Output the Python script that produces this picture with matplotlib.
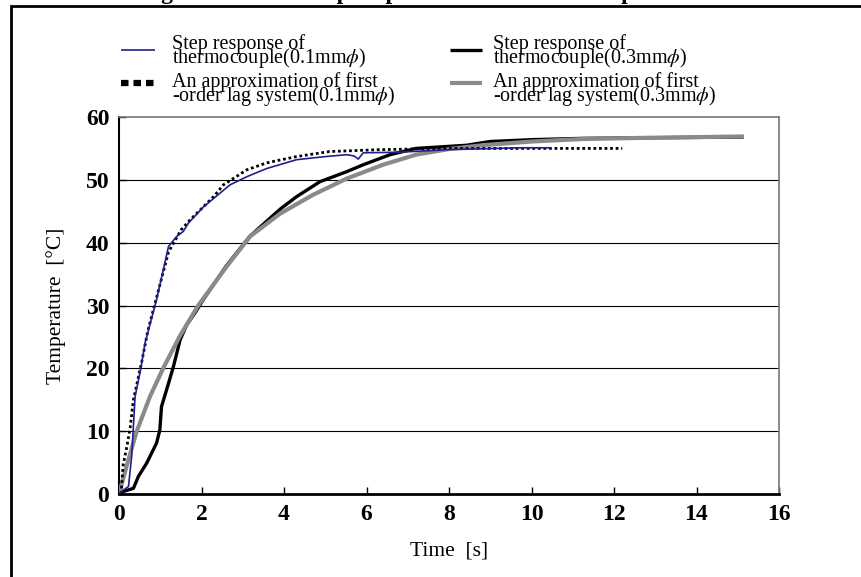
import matplotlib
matplotlib.use("Agg")
import matplotlib.pyplot as plt
from matplotlib.lines import Line2D
from matplotlib.patches import Rectangle

# ================= data =================
# step response of thermocouple 0.1mm
t_01 = [0.0, 0.06, 0.23, 0.31, 0.39, 0.53, 0.63, 0.91, 1.2, 1.4, 1.56, 1.68, 2.05,
        2.69, 3.1, 3.58, 4.3, 5.0, 5.52, 5.7, 5.8, 5.92, 6.8, 8.0, 9.7, 10.45]
T_01 = [0.0, 0.4, 1.2, 6.2, 15.5, 20.0, 24.0, 30.9, 39.4, 41.0, 41.8, 43.1, 45.7,
        49.2, 50.5, 51.8, 53.2, 53.7, 54.0, 53.8, 53.3, 54.3, 54.4, 54.8, 55.1, 55.1]

# first-order lag approximation 0.1mm
t_01a = [0.05, 0.1, 0.19, 0.27, 0.35, 0.43, 0.55, 0.7, 0.9, 1.2, 1.5, 1.72, 2.29,
         2.53, 3.1, 3.58, 4.3, 5.1, 6.3, 8.0, 10.0, 12.2]
T_01a = [0.0, 4.6, 7.5, 10.5, 15.0, 17.4, 21.0, 26.0, 31.0, 38.5, 42.0, 43.6, 47.3,
         49.2, 51.6, 52.7, 53.7, 54.5, 54.8, 55.0, 55.0, 55.0]

# step response of thermocouple 0.3mm
t_03 = [0.0, 0.1, 0.35, 0.47, 0.67, 0.91, 0.99, 1.03, 1.2, 1.32, 1.48, 1.64, 1.84,
        2.04, 2.6, 3.17, 3.9, 4.3, 4.87, 5.52, 5.92, 6.57, 7.2, 8.42, 9.0, 10.04,
        11.25, 12.87, 15.1]
T_03 = [0.0, 0.4, 0.9, 2.8, 4.9, 8.1, 10.2, 13.9, 17.6, 20.3, 24.5, 26.9, 28.8,
        30.9, 36.3, 41.0, 45.3, 47.3, 49.7, 51.3, 52.4, 54.0, 55.0, 55.5, 56.1, 56.4,
        56.6, 56.7, 56.8]

# first-order lag approximation 0.3mm
t_03a = [0.0, 0.2, 0.43, 0.75, 1.07, 1.48, 1.92, 2.61, 3.18, 3.9, 4.7, 5.52, 6.4,
         7.2, 8.0, 8.8, 10.0, 11.25, 12.87, 15.1]
T_03a = [0.0, 4.8, 10.0, 15.5, 20.0, 25.2, 30.0, 36.2, 41.0, 44.6, 47.6, 50.2, 52.4,
         54.0, 54.9, 55.5, 56.1, 56.5, 56.7, 56.9]

legend_labels = [
    ["Step response of", r"thermocouple(0.1mm$\phi$)"],
    ["An approximation of first", r"-order lag system(0.1mm$\phi$)"],
    ["Step response of", r"thermocouple(0.3mm$\phi$)"],
    ["An approximation of first", r"-order lag system(0.3mm$\phi$)"],
]
title_text = "Fig.7  Measured step response of the thermocouple"
xticks = list(range(0, 17, 2))
yticks = list(range(0, 61, 10))

# ================= style =================
plt.rcParams['font.family'] = ['Liberation Serif', 'DejaVu Serif']
plt.rcParams['mathtext.fontset'] = 'stix'

W, H = 861, 577
styles = [
    dict(color='#1f1f8f', lw=1.2, ls='-'),
    dict(color='black', lw=2.0, ls=(0, (1, 1))),
    dict(color='black', lw=2.4, ls='-'),
    dict(color='#8a8a8a', lw=3.0, ls='-'),
]

def fx(x):
    return x / W

def fy(y):
    return 1 - y / H

fig = plt.figure(figsize=(W / 100, H / 100), dpi=100)

# outer frame and clipped title
fig.add_artist(Rectangle((fx(11), fy(620)), 1.2, fy(6) - fy(620),
                         transform=fig.transFigure, fill=False, lw=2.0, ec='black'))
fig.text(fx(140), fy(-1), title_text, fontsize=17, fontweight='bold', va='baseline')

ax = fig.add_axes([fx(119), fy(494), fx(779) - fx(119), fy(117) - fy(494)])

ax.plot(t_03, T_03, **styles[2], zorder=3)
ax.plot(t_03a, T_03a, **styles[3], zorder=4)
ax.plot(t_01a, T_01a, **styles[1], zorder=5)
ax.plot(t_01, T_01, **styles[0], zorder=6)

ax.set_xlim(0, 16)
ax.set_ylim(0, 60)
ax.set_xticks(xticks)
ax.set_yticks(yticks)
for y in yticks[1:-1]:
    ax.axhline(y, color='black', lw=0.8, zorder=1)

ax.spines['left'].set_linewidth(1.5)
ax.spines['bottom'].set_linewidth(2.0)
ax.spines['top'].set_color('#777777')
ax.spines['top'].set_linewidth(1.2)
ax.spines['right'].set_color('#777777')
ax.spines['right'].set_linewidth(1.2)

ax.tick_params(direction='in', length=5, width=1, pad=7, labelsize=17)
for lab in ax.get_xticklabels() + ax.get_yticklabels():
    lab.set_fontweight('bold')

ax.set_xlabel("Time  [s]", fontsize=15.5, labelpad=12)
ax.set_ylabel("Temperature  [°C]", fontsize=15.5, labelpad=14)

# ================= legend (drawn by hand, two columns) =================
hx = [(121, 155), (121, 155), (450, 482), (450, 482)]
hy = [50, 83, 50, 83]
tx = [172, 172, 493, 493]
ty = [49, 87, 49, 87]
for i in range(4):
    st = dict(styles[i])
    if i == 1:
        st['lw'] = 4.5
        st['ls'] = (0, (1.2, 0.8))
    fig.add_artist(Line2D([fx(hx[i][0]), fx(hx[i][1])], [fy(hy[i]), fy(hy[i])],
                          transform=fig.transFigure, solid_capstyle='butt',
                          dash_capstyle='butt', **st))
    for k, line in enumerate(legend_labels[i]):
        fig.text(fx(tx[i]), fy(ty[i] + 14 * k), line, fontsize=14.5, va='baseline')

fig.savefig("out.png", dpi=100)
